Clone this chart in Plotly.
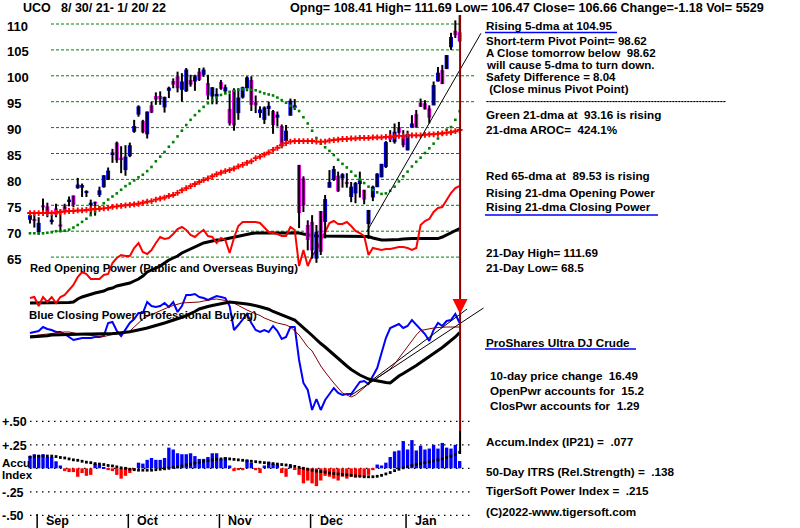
import plotly.graph_objects as go

W, H = 800, 528

# ---------------- data ----------------
opens = [72.2, 72.3, 69.8, 75.0, 74.8, 71.9, 74.4, 71.3, 74.8, 75.8,
         76.9, 78.3, 78.4, 77.4, 75.2, 75.7, 77.0, 78.5, 79.9, 84.9,
         87.1, 84.2, 81.8, 84.5, 89.2, 92.5, 91.3, 88.7, 94.3, 96.1,
         96.1, 93.9, 97.1, 99.0, 99.9, 97.3, 97.0, 99.2, 98.9, 100.8,
         100.2, 98.6, 96.0, 96.0, 98.8, 97.0, 93.6, 97.3, 92.8, 95.8,
         97.6, 99.2, 94.9, 92.8, 91.5, 93.6, 93.2, 91.9, 90.3, 87.4,
         92.3, 93.8, 82.8, 80.2, 71.2, 71.8, 64.7, 73.9, 71.8, 78.4,
         79.9, 80.7, 80.2, 79.5, 76.6, 77.3, 79.1, 78.0, 71.4, 76.5,
         78.5, 80.4, 82.4, 88.5, 87.2, 90.1, 88.5, 85.6, 90.0, 92.6,
         94.8, 94.7, 93.7, 94.3, 98.9, 101.1, 101.3, 105.5, 108.7, 108.41]
highs = [73.6, 73.6, 72.7, 76.3, 75.5, 73.2, 75.3, 74.2, 75.3, 76.7,
         76.9, 80.3, 79.2, 77.9, 76.1, 75.7, 78.6, 80.8, 82.3, 85.9,
         87.3, 86.4, 86.6, 87.1, 91.5, 94.3, 91.5, 93.1, 95.0, 96.8,
         97.0, 96.0, 97.9, 99.5, 100.8, 100.5, 101.5, 100.2, 100.2, 101.5,
         101.6, 100.2, 97.8, 97.6, 99.2, 98.3, 96.6, 97.6, 97.6, 97.9,
         99.9, 99.9, 96.2, 94.1, 94.1, 95.0, 93.4, 93.1, 90.6, 90.5,
         95.6, 95.5, 82.8, 80.6, 72.1, 73.1, 71.2, 73.9, 77.0, 81.8,
         82.6, 81.5, 81.2, 81.2, 79.5, 79.5, 81.5, 78.0, 74.1, 78.8,
         81.2, 83.0, 87.4, 89.5, 90.8, 91.1, 89.5, 89.4, 92.4, 93.4,
         95.6, 95.3, 94.3, 98.9, 101.7, 102.1, 104.0, 108.3, 110.7, 111.69]
lows = [71.5, 70.7, 69.3, 73.5, 72.7, 71.3, 72.7, 70.0, 73.7, 74.8,
        74.6, 78.2, 76.6, 76.6, 73.0, 73.0, 76.6, 78.4, 79.9, 83.2,
        83.2, 81.2, 80.7, 84.3, 89.0, 92.1, 88.9, 87.9, 92.8, 94.4,
        94.4, 92.9, 95.7, 97.6, 96.8, 95.0, 96.9, 97.9, 97.1, 99.0,
        99.8, 95.4, 94.5, 94.5, 97.3, 96.6, 90.4, 89.4, 91.5, 95.6,
        97.0, 93.2, 92.8, 91.9, 90.7, 92.3, 88.8, 90.2, 86.0, 87.4,
        92.3, 93.4, 70.6, 73.7, 66.3, 64.7, 63.9, 65.4, 68.6, 78.4,
        79.7, 77.6, 78.4, 78.4, 75.6, 75.4, 76.5, 75.2, 68.5, 75.8,
        78.5, 80.4, 82.2, 87.2, 86.9, 88.5, 86.2, 85.6, 90.0, 90.0,
        94.0, 93.5, 90.8, 94.3, 98.9, 98.4, 101.3, 105.0, 107.3, 106.47]
closes = [73.1, 72.0, 71.6, 74.6, 73.5, 72.1, 73.2, 70.9, 74.0, 76.0,
          75.1, 79.0, 78.9, 77.6, 75.4, 75.3, 77.9, 80.8, 81.7, 85.1,
          83.7, 83.9, 84.4, 86.6, 90.3, 94.1, 89.1, 93.1, 92.9, 95.4,
          95.5, 95.9, 97.7, 98.3, 97.6, 98.9, 101.2, 98.3, 99.9, 99.2,
          101.2, 96.2, 97.8, 96.5, 97.5, 97.8, 90.8, 90.4, 95.8, 97.8,
          99.7, 94.4, 94.3, 93.5, 93.9, 94.2, 90.5, 92.5, 86.6, 89.4,
          95.2, 94.3, 73.5, 75.0, 68.3, 66.3, 69.9, 66.0, 76.2, 79.5,
          82.0, 77.7, 81.0, 79.1, 78.6, 79.3, 79.8, 76.1, 74.1, 78.6,
          81.1, 83.0, 87.2, 87.7, 89.2, 89.0, 86.6, 88.7, 90.8, 90.0,
          94.0, 93.5, 91.9, 98.2, 100.6, 98.4, 104.0, 107.5, 107.84, 106.66]

ma21 = [69.6, 69.6, 69.6, 69.6, 69.7, 69.8, 70.0, 70.0, 70.1, 70.3,
        70.7, 71.2, 71.8, 72.4, 73.1, 73.8, 74.6, 75.4, 76.1, 76.7,
        77.3, 78.0, 78.7, 79.2, 79.8, 80.4, 80.9, 81.6, 82.4, 83.5,
        84.4, 85.3, 86.3, 87.2, 88.3, 89.4, 90.5, 91.5, 92.4, 93.2,
        94.0, 94.7, 95.3, 95.8, 96.3, 96.6, 96.9, 97.1, 97.3, 97.4,
        97.4, 97.3, 97.2, 96.9, 96.6, 96.4, 96.2, 95.8, 95.3, 94.8,
        94.2, 93.8, 93.2, 92.0, 90.8, 89.4, 88.0, 86.9, 86.2, 85.5,
        84.7, 83.8, 83.0, 82.3, 81.5, 80.7, 80.0, 79.3, 78.6, 78.0,
        77.5, 77.2, 77.3, 77.8, 78.6, 79.6, 80.6, 81.5, 82.5, 83.4,
        84.2, 85.1, 86.0, 86.9, 87.9, 88.8, 89.6, 90.1, 91.5, 93.16]
ma65 = [73.5, 73.5, 73.5, 73.5, 73.5, 73.5, 73.6, 73.7, 73.8, 73.9,
        73.9, 74.0, 74.0, 74.1, 74.2, 74.3, 74.3, 74.4, 74.5, 74.7,
        74.8, 74.9, 75.0, 75.1, 75.2, 75.3, 75.5, 75.7, 75.8, 76.1,
        76.3, 76.5, 76.8, 77.0, 77.4, 77.9, 78.3, 78.7, 79.1, 79.5,
        79.9, 80.2, 80.6, 81.0, 81.3, 81.6, 81.8, 82.1, 82.5, 82.8,
        83.2, 83.5, 84.1, 84.4, 84.8, 85.2, 85.7, 86.1, 86.6, 87.0,
        87.3, 87.4, 87.4, 87.4, 87.4, 87.4, 87.3, 87.3, 87.3, 87.5,
        87.6, 87.7, 87.8, 87.8, 87.9, 87.9, 88.0, 88.0, 88.0, 88.1,
        88.1, 88.1, 88.2, 88.2, 88.3, 88.4, 88.4, 88.5, 88.5, 88.5,
        88.5, 88.6, 88.7, 88.7, 88.8, 88.9, 89.0, 89.1, 89.3, 89.53]

open_power = [1, 1.5, -3, 1.5, -1, 1.5, -1.5, 1.5, 2.5, 5,
              7.5, 11.5, 14, 13, 10.5, 10.5, 10.5, 12.5, 13, 18.5,
              21, 22.5, 22, 22, 26, 28.5, 24, 23, 25, 28.5,
              31.5, 30.5, 31, 33, 35.5, 36.5, 35, 32.5, 31.5, 33.5,
              35, 32, 31.5, 28.5, 31, 30, 23.5, 31, 37, 39,
              39, 39, 39, 38.5, 36, 34, 33.5, 33, 32, 32,
              36.5, 35, 17, 25, 17, 22, 25, 29.5, 33.5, 38.5,
              39.5, 38, 38, 39, 37, 34.5, 33.5, 32, 22.5, 26,
              25.5, 25, 25.5, 25.5, 26, 26.5, 26.5, 26, 25, 26,
              37.5, 39.5, 40.5, 44, 46, 46.5, 50, 53.5, 56, 57]
open_power_ma = [-1.5, -1.5, -1.5, -1.5, -1.5, -1.5, -1.5, -1.5, -1.5, -1.25,
                 -1, 0.5, 1.5, 2.25, 3, 3.5, 4, 4.5, 5.5, 6,
                 7, 7.5, 8, 8.5, 9.5, 10.5, 12, 14, 15, 16,
                 17, 18.5, 20, 21, 22, 23.5, 24.5, 25.5, 26.25, 27.5,
                 28.5, 29, 29.5, 30, 30, 30.5, 31, 31.5, 32, 32.5,
                 33, 33.25, 33.5, 33.5, 33.5, 33.5, 33.5, 33.5, 33.5, 33.5,
                 33.5, 33.5, 33.5, 33, 32.5, 32.25, 32, 32, 32, 32,
                 32, 32, 32, 32, 32, 32, 32, 32, 31.75, 31,
                 30.5, 30, 30, 30, 30, 30.25, 30.5, 30.7, 30.7, 30.7,
                 30.7, 30.7, 30.7, 30.7, 30.7, 31.5, 32.5, 33.5, 34.75, 35.75]
close_power = [-16.5, -16, -15.5, -13.5, -14.5, -15, -16, -16, -17, -18.5,
               -20, -19.5, -19, -19, -19, -18.5, -18.5, -18, -11.5, -11,
               -15.5, -18, -15, -11.5, -9.5, -6.5, -6.5, -1, -3, -3.5,
               -3, -1.5, -3.5, -1, -6, -3, 2.5, 2.5, 3, 1.5,
               1, 0, 1, 2, 1.5, 1, -3, -15, -12.5, -9.5,
               -7, -11.5, -15, -16, -15, -16, -13, -15.5, -19.5, -18.5,
               -13.5, -13.5, -30, -41.5, -45, -55, -49.5, -55, -50, -47,
               -44, -46.5, -47.5, -47, -47, -44, -41, -40.5, -42, -38,
               -34, -26.5, -19, -14, -13, -12, -14, -13, -10, -12.5,
               -14.5, -17, -20.5, -15, -11.5, -13, -10.5, -10, -7, -11.5]
close_power_ma = [-18.5, -18.4, -18.25, -18, -17.9, -17.5, -17.4, -17.3, -17.2, -17.1,
                  -17, -17, -17, -17, -17, -17, -17, -17, -16.9, -16.75,
                  -16.6, -16.5, -16.15, -15.85, -15.5, -15, -14.5, -14, -13.5, -12.9,
                  -12.15, -11.5, -10.85, -10.15, -9.4, -8.65, -7.85, -6.9, -5.75, -4.5,
                  -3.75, -3.25, -2.75, -2.25, -1.8, -1.35, -1.05, -1.25, -1.4, -1.7,
                  -2, -2.35, -2.7, -3.35, -4, -4.6, -5.75, -6.65, -7.6, -8.4,
                  -9.25, -10, -12, -13.75, -15.75, -17.75, -20, -21.75, -23.5, -25.5,
                  -27.5, -29.5, -31.5, -33, -34.75, -36.25, -37.5, -38.5, -39.5, -40,
                  -40.5, -41, -41.25, -41.5, -39.5, -38, -36.75, -35.5, -34, -32.75,
                  -31.25, -29.75, -28.25, -27, -25.5, -23.75, -22, -20.25, -18.5, -16.25]
close_power_fast = [-18, -17.75, -17.5, -17, -16.75, -16.5, -16.25, -16, -16, -16,
                    -16.5, -17, -17.25, -17.5, -17.75, -18, -18.25, -18.25, -17.75, -17.25,
                    -16.75, -16.5, -16.25, -15.5, -13.5, -11.25, -9.5, -8.25, -7.25, -6.25,
                    -5.25, -4.5, -3.5, -2.75, -2, -1.5, -1.35, -1.25, -1.15, -1,
                    -0.5, 0, 0.25, 0.5, 0.25, -0.25, -1, -1.5, -2.75, -4,
                    -5, -6, -6.75, -7.75, -9, -10, -10.75, -11.5, -12, -12.5,
                    -13.5, -15.5, -17.5, -20.5, -23.5, -25.5, -29.5, -33, -36, -39,
                    -41.5, -44, -46.5, -47.5, -48.5, -47.5, -45.5, -43.75, -42, -40.5,
                    -39, -37.5, -36, -34.5, -32, -29, -26, -23, -20, -17.5,
                    -15.25, -14.75, -14.25, -14, -13.75, -13.5, -13.5, -13.5, -13.5, -13.5]

accum = [0.13, 0.15, 0.14, 0.15, 0.12, 0.12, 0.075, 0.03, -0.03, -0.04,
         -0.04, -0.09, -0.05, -0.08, -0.07, 0.05, 0.04, 0.015, -0.02, -0.03,
         -0.07, -0.11, -0.08, -0.05, -0.02, 0.06, 0.05, 0.09, 0.11, 0.09,
         0.09, 0.11, 0.22, 0.20, 0.16, 0.15, 0.15, 0.16, 0.13, 0.10,
         0.10, 0.12, 0.16, 0.16, 0.10, 0.12, 0.03, -0.03, -0.02, -0.02,
         0.09, 0.06, -0.02, -0.05, 0.03, 0.07, 0.05, 0.04, -0.05, -0.09,
         0.03, -0.01, -0.07, -0.16, -0.13, -0.16, -0.19, -0.13, -0.08, -0.09,
         -0.11, -0.13, -0.09, -0.11, -0.09, -0.10, -0.09, -0.09, -0.07, -0.02,
         0.04, 0.03, 0.06, 0.12, 0.18, 0.19, 0.29, 0.20, 0.30, 0.19,
         0.24, 0.20, 0.21, 0.25, 0.21, 0.27, 0.22, 0.21, 0.25, 0.077]
accum_ma = [0.12, 0.125, 0.13, 0.13, 0.13, 0.13, 0.125, 0.115, 0.11, 0.10,
            0.09, 0.085, 0.075, 0.065, 0.06, 0.05, 0.045, 0.04, 0.03, 0.025,
            0.015, 0.005, 0.0, -0.01, -0.015, -0.02, -0.02, -0.02, -0.02, -0.015,
            -0.01, -0.005, 0.0, 0.01, 0.015, 0.025, 0.035, 0.045, 0.055, 0.065,
            0.075, 0.08, 0.09, 0.095, 0.10, 0.10, 0.10, 0.095, 0.09, 0.085,
            0.08, 0.075, 0.07, 0.065, 0.06, 0.055, 0.05, 0.045, 0.04, 0.035,
            0.03, 0.02, 0.01, 0.0, -0.01, -0.02, -0.03, -0.035, -0.04, -0.05,
            -0.055, -0.06, -0.065, -0.07, -0.075, -0.08, -0.085, -0.09, -0.09, -0.09,
            -0.085, -0.075, -0.06, -0.045, -0.025, -0.01, 0.005, 0.02, 0.03, 0.04,
            0.05, 0.06, 0.07, 0.08, 0.09, 0.10, 0.115, 0.13, 0.15, 0.17]

days = list(range(len(closes)))

month_names = ["Sep", "Oct", "Nov", "Dec", "Jan"]
month_first_day = [2, 23, 44, 65, 87]

price_levels = [110, 105, 100, 95, 90, 85, 80, 75, 70, 65]
accum_levels = [0.5, 0.25, 0.0, -0.25, -0.5]
accum_level_labels = ["+.50", "+.25", "", "-.25", "-.50"]

# trendlines: (day0, value0, day1, value1)
price_trend = [(77.6, 69.9, 103.9, 108.2)]
power_trends = [(73.7, -48.0, 104.5, -4.0), (77.6, -42.0, 100.7, -4.5)]

last_day = days[-1]

# ---------------- geometry of the window ----------------
DAY_PX, X0_PX = 4.34, 30.0
x_range = [-X0_PX / DAY_PX, (W - X0_PX) / DAY_PX]
PRICE_PX, P110_PX = 5.18, 24.0
price_range = [110 - (H - P110_PX) / PRICE_PX, 110 + P110_PX / PRICE_PX]
POW_ZERO_PX, POW_PX = 300.0, 2.0
power_range = [-(H - POW_ZERO_PX) / POW_PX, POW_ZERO_PX / POW_PX]
ACC_ZERO_PX, ACC_PX = 468.3, 94.0
acc_range = [-(H - ACC_ZERO_PX) / ACC_PX, ACC_ZERO_PX / ACC_PX]

FONT = "Liberation Sans, Arial, sans-serif"
NB = "\u00a0"

def px(x):
    return x / W

def py(y):
    return 1 - y / H

def label(x, y, text, size=12, color="black", xanchor="left"):
    return dict(x=px(x), y=py(y), xref="paper", yref="paper",
                text="<b>" + text.replace("  ", NB + " ") + "</b>",
                showarrow=False, xanchor=xanchor, yanchor="middle", borderpad=0,
                font=dict(family=FONT, size=size, color=color))

fig = go.Figure()

# ---- power lines (base axis y) ----
fig.add_trace(go.Scatter(x=days, y=open_power_ma, mode="lines", yaxis="y",
                         line=dict(color="black", width=3)))
fig.add_trace(go.Scatter(x=days, y=open_power, mode="lines", yaxis="y",
                         line=dict(color="#ff0000", width=2)))
fig.add_trace(go.Scatter(x=days, y=close_power, mode="lines", yaxis="y",
                         line=dict(color="#0000ff", width=2)))
fig.add_trace(go.Scatter(x=days, y=close_power_fast, mode="lines", yaxis="y",
                         line=dict(color="#800000", width=1)))
fig.add_trace(go.Scatter(x=days, y=close_power_ma, mode="lines", yaxis="y",
                         line=dict(color="black", width=3)))
for d0, v0, d1, v1 in power_trends:
    fig.add_trace(go.Scatter(x=[d0, d1], y=[v0, v1], mode="lines", yaxis="y",
                             line=dict(color="black", width=1)))

# ---- price (axis y2) ----
wx, wy = [], []
for d, lo, hi in zip(days, lows, highs):
    wx += [d, d, None]
    wy += [lo, hi, None]
fig.add_trace(go.Scatter(x=wx, y=wy, mode="lines", yaxis="y2",
                         line=dict(color="black", width=2)))
body_base = [min(o, c) for o, c in zip(opens, closes)]
body_h = [max(abs(c - o), 0.3) for o, c in zip(opens, closes)]
body_col = ["#0000ff" if c >= o else "#ff00ff" for o, c in zip(opens, closes)]
fig.add_trace(go.Bar(x=days, y=body_h, base=body_base, yaxis="y2", width=0.92,
                     marker=dict(color=body_col, line=dict(width=0))))
fig.add_trace(go.Scatter(x=days, y=ma21, mode="markers", yaxis="y2",
                         marker=dict(symbol="square", size=2.6, color="#008000",
                                     line=dict(width=0))))
fig.add_trace(go.Scatter(x=days, y=ma65, mode="markers", yaxis="y2",
                         marker=dict(symbol="cross", size=4.8, color="#ff0000",
                                     line=dict(width=0))))
for d0, v0, d1, v1 in price_trend:
    fig.add_trace(go.Scatter(x=[d0, d1], y=[v0, v1], mode="lines", yaxis="y2",
                             line=dict(color="black", width=1)))

# ---- accumulation index (axis y3) ----
acc_col = ["#0000ff" if a >= 0 else "#ff0000" for a in accum]
fig.add_trace(go.Bar(x=days, y=accum, base=0, yaxis="y3", width=0.78,
                     marker=dict(color=acc_col, line=dict(width=0))))
fig.add_trace(go.Scatter(x=days, y=accum_ma, mode="markers", yaxis="y3",
                         marker=dict(symbol="square", size=2.8, color="black",
                                     line=dict(width=0))))

shapes = []
for lv in price_levels:
    x_end = 475 if lv in (95, 100) else 460
    shapes.append(dict(type="line", xref="paper", yref="y2", x0=px(51), x1=px(x_end),
                       y0=lv, y1=lv, layer="below",
                       line=dict(color="#008000", width=1, dash="3px,2px")))
for lv in accum_levels:
    shapes.append(dict(type="line", xref="paper", yref="y3", x0=px(30), x1=px(472),
                       y0=lv, y1=lv, layer="below",
                       line=dict(color="black", width=1.3, dash="1.5px,4.5px")))
for d in month_first_day:
    shapes.append(dict(type="line", xref="x", yref="paper", x0=d - 0.35, x1=d - 0.35,
                       y0=py(528), y1=py(514), line=dict(color="black", width=1.5)))
shapes.append(dict(type="line", xref="x", yref="paper", x0=last_day + 0.1, x1=last_day + 0.1,
                   y0=py(15), y1=py(431), line=dict(color="#8b0000", width=2)))
shapes.append(dict(type="line", xref="x", yref="paper", x0=last_day + 0.1, x1=last_day + 0.1,
                   y0=py(431), y1=py(454), line=dict(color="black", width=2)))
# underlines in the text panel
for y0, x1 in [(32.5, 617), (215, 658), (349, 636)]:
    shapes.append(dict(type="line", xref="paper", yref="paper", x0=px(485), x1=px(x1),
                       y0=py(y0), y1=py(y0), line=dict(color="#0000ff", width=1.5)))

ann = []
# header
ann.append(label(22, 8, "UCO", 12.5))
ann.append(label(60, 8, "8/ 30/ 21- 1/ 20/ 22", 12.5))
ann.append(label(289, 8, "Opng= 108.41 High= 111.69 Low= 106.47 Close= 106.66 Change=-1.18 Vol= 5529", 12.6))
# price labels
for lv in price_levels:
    ann.append(dict(x=px(6), y=lv, xref="paper", yref="y2", yshift=-2, borderpad=0,
                    text="<b>%d</b>" % lv, showarrow=False, xanchor="left", yanchor="middle",
                    font=dict(family=FONT, size=13, color="black")))
for lv, t in zip(accum_levels, accum_level_labels):
    if t:
        ann.append(dict(x=px(1), y=lv, xref="paper", yref="y3", yshift=-1, borderpad=0,
                        text="<b>%s</b>" % t, showarrow=False, xanchor="left", yanchor="middle",
                        font=dict(family=FONT, size=12.5, color="black")))
ann.append(label(1, 462.5, "Accu", 11.5))
ann.append(label(1, 475, "Index", 11.5))
for d, m in zip(month_first_day, month_names):
    ann.append(dict(x=d - 0.35, y=py(521), xref="x", yref="paper", xshift=8, borderpad=0,
                    text="<b>%s</b>" % m, showarrow=False, xanchor="left", yanchor="middle",
                    font=dict(family=FONT, size=12.5, color="black")))
# in-chart captions
ann.append(label(29, 268, "Red Opening Power (Public and Overseas Buying)", 11.2))
ann.append(label(28, 315, "Blue Closing Power (Professional Buying)", 11.4))
# right text panel
panel = [
    (485, 25.5, "Rising 5-dma at 104.95", 11.7),
    (485, 41.0, "Short-term Pivot Point= 98.62", 11.5),
    (485, 53.0, "A Close tomorrow below  98.62", 11.5),
    (485, 65.5, "will cause 5-dma to turn down.", 11.5),
    (485, 77.5, "Safety Difference = 8.04", 11.5),
    (485, 89.5, " (Close minus Pivot Point)", 11.5),
    (485, 101.0, "-" * 80, 9),
    (485, 115.0, "Green 21-dma at  93.16 is rising", 11.7),
    (485, 129.5, "21-dma AROC=  424.1%", 11.7),
    (485, 176.0, "Red 65-dma at  89.53 is rising", 11.7),
    (485, 192.0, "Rising 21-dma Opening Power", 11.7),
    (485, 206.5, "Rising 21-dma Closing Power", 11.7),
    (485, 252.0, "21-Day High= 111.69", 11.7),
    (485, 267.0, "21-Day Low= 68.5", 11.7),
    (485, 342.0, "ProShares Ultra DJ Crude", 11.7),
    (489, 375.0, "10-day price change  16.49", 11.7),
    (489, 390.0, "OpenPwr accounts for  15.2", 11.7),
    (489, 405.5, "ClosPwr accounts for  1.29", 11.7),
    (485, 441.0, "Accum.Index (IP21) =  .077", 11.7),
    (485, 471.5, "50-Day ITRS (Rel.Strength) =  .138", 11.7),
    (485, 490.0, "TigerSoft Power Index =  .215", 11.7),
    (485, 511.5, "(C)2022-www.tigersoft.com", 11.7),
]
for x, y, t, s in panel:
    ann.append(label(x, y, t, s))
# red arrow at the last day in the closing-power panel
ann.append(dict(x=last_day + 0.1, y=(POW_ZERO_PX - 314) / POW_PX, xref="x", yref="y",
                ax=0, ay=-16, text="", showarrow=True, arrowhead=2, arrowsize=1.0,
                arrowwidth=3, arrowcolor="#ff0000"))

fig.update_layout(
    width=W, height=H, margin=dict(l=0, r=0, t=0, b=0),
    paper_bgcolor="white", plot_bgcolor="white", showlegend=False,
    barmode="overlay", hovermode=False,
    xaxis=dict(range=x_range, visible=False, fixedrange=True),
    yaxis=dict(range=power_range, visible=False, fixedrange=True),
    yaxis2=dict(range=price_range, visible=False, overlaying="y", fixedrange=True),
    yaxis3=dict(range=acc_range, visible=False, overlaying="y", fixedrange=True),
    shapes=shapes, annotations=ann,
)

fig.write_html("out.html")
